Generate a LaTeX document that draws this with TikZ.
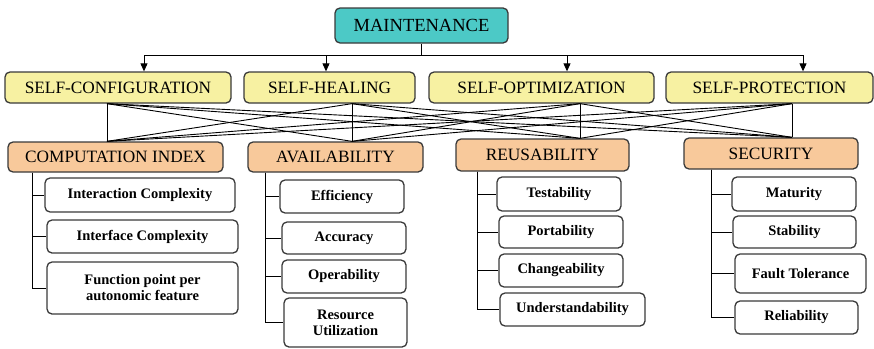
\documentclass[tikz,border=0pt]{standalone}
\usepackage{fontspec}
\setmainfont{Liberation Serif}
\usetikzlibrary{arrows.meta}
\definecolor{teal box}{HTML}{4CC9C6}
\definecolor{yellow box}{HTML}{F7F1A2}
\definecolor{orange box}{HTML}{F8C99B}
\definecolor{edge gray}{HTML}{3A3A3A}
\tikzset{
  box/.style={draw=edge gray, line width=1.3pt, rounded corners=5pt, inner sep=0pt,
    minimum height=31pt, align=center},
  root/.style={box, fill=teal box, minimum width=173pt, minimum height=35pt, font=\fontsize{18.5}{20}\selectfont},
  mode/.style={box, fill=yellow box, font=\fontsize{17.3}{19}\selectfont},
  area/.style={box, fill=orange box, font=\fontsize{17.3}{19}\selectfont},
  leaf/.style={box, fill=white, minimum height=33pt, font=\fontsize{14.5}{16}\selectfont\bfseries},
}
\begin{document}
\begin{tikzpicture}[x=1pt, y=-1pt, >={Triangle[width=7pt,length=8pt]}, line width=0.9pt]
    \useasboundingbox (0,0) rectangle (874,348);

    % top level
    \node[root] (main) at (421.5,25.5) {MAINTENANCE};

    \node[mode, minimum width=226pt] (sc) at (118,87.5)   {SELF-CONFIGURATION};
    \node[mode, minimum width=171pt] (sh) at (329.5,87.5) {SELF-HEALING};
    \node[mode, minimum width=225pt] (so) at (541.5,87.5) {SELF-OPTIMIZATION};
    \node[mode, minimum width=207pt] (sp) at (769.5,87.5) {SELF-PROTECTION};

    \coordinate (bus) at (main.south |- 0,55);
    \draw (main.south) -- (bus);
    \draw[->] (bus) -| ([xshift=26pt]sc.north);
    \draw[->] (bus) -| ([xshift=-3.5pt]sh.north);
    \draw[->] (bus) -| ([xshift=25.5pt]so.north);
    \draw[->] (bus) -| ([xshift=33.5pt]sp.north);

    % quality areas
    \node[area, minimum width=215pt, minimum height=30pt] (ci) at (115.5,157) {COMPUTATION INDEX};
    \node[area, minimum width=175pt, minimum height=30pt] (av) at (335.5,157) {AVAILABILITY};
    \node[area, minimum width=173pt, minimum height=32pt] (re) at (542.5,155) {REUSABILITY};
    \node[area, minimum width=174pt] (se) at (771,153.5) {SECURITY};

    \coordinate (sc-out) at (sc.south -| 107,0);
    \coordinate (sh-out) at (sh.south -| 352,0);
    \coordinate (so-out) at (so.south -| 580,0);
    \coordinate (sp-out) at (sp.south -| 792,0);
    \coordinate (ci-in) at (ci.north -| 107,0);
    \coordinate (av-in) at (av.north -| 352,0);
    \coordinate (re-in) at (re.north -| 580,0);
    \coordinate (se-in) at (se.north -| 792,0);

    \foreach \u in {sc-out,sh-out,so-out,sp-out}
        \foreach \v in {ci-in,av-in,re-in,se-in}
            \draw (\u) -- (\v);

    % metrics
    \node[leaf, minimum width=190pt, minimum height=34pt] (ic) at (140,195)   {Interaction Complexity};
    \node[leaf, minimum width=191pt] (ifc) at (142.5,236.5) {Interface Complexity};
    \node[leaf, minimum width=191pt, minimum height=52pt] (fp) at (142.5,288) {Function point per\\autonomic feature};

    \node[leaf, minimum width=124pt] (ef) at (342,196.5) {Efficiency};
    \node[leaf, minimum width=124pt, minimum height=32pt] (ac) at (344,238) {Accuracy};
    \node[leaf, minimum width=124pt] (op) at (344,276.5) {Operability};
    \node[leaf, minimum width=123pt, minimum height=49pt] (ru) at (345.5,322.5) {Resource\\Utilization};

    \node[leaf, minimum width=124pt, minimum height=34pt] (te) at (559,194) {Testability};
    \node[leaf, minimum width=124pt, minimum height=32pt] (po) at (561,232) {Portability};
    \node[leaf, minimum width=124pt] (ch) at (561,270.5) {Changeability};
    \node[leaf, minimum width=145pt] (un) at (572.5,309.5) {Understandability};

    \node[leaf, minimum width=124pt, minimum height=34pt] (ma) at (794,194) {Maturity};
    \node[leaf, minimum width=123pt, minimum height=32pt] (st) at (794.5,232) {Stability};
    \node[leaf, minimum width=131pt, minimum height=39pt] (ft) at (800.5,273.5) {Fault Tolerance};
    \node[leaf, minimum width=123pt] (rl) at (796.5,317.5) {Reliability};

    \coordinate (ci-down) at (ci.south -| 32,0);
    \coordinate (av-down) at (av.south -| 265,0);
    \coordinate (re-down) at (re.south -| 477,0);
    \coordinate (se-down) at (se.south -| 711,0);

    \foreach \m in {ic,ifc,fp} \draw (ci-down) |- (\m.west);
    \foreach \m in {ef,ac,op,ru} \draw (av-down) |- (\m.west);
    \foreach \m in {te,po,ch,un} \draw (re-down) |- (\m.west);
    \foreach \m in {ma,st,ft,rl} \draw (se-down) |- (\m.west);
\end{tikzpicture}
\end{document}
